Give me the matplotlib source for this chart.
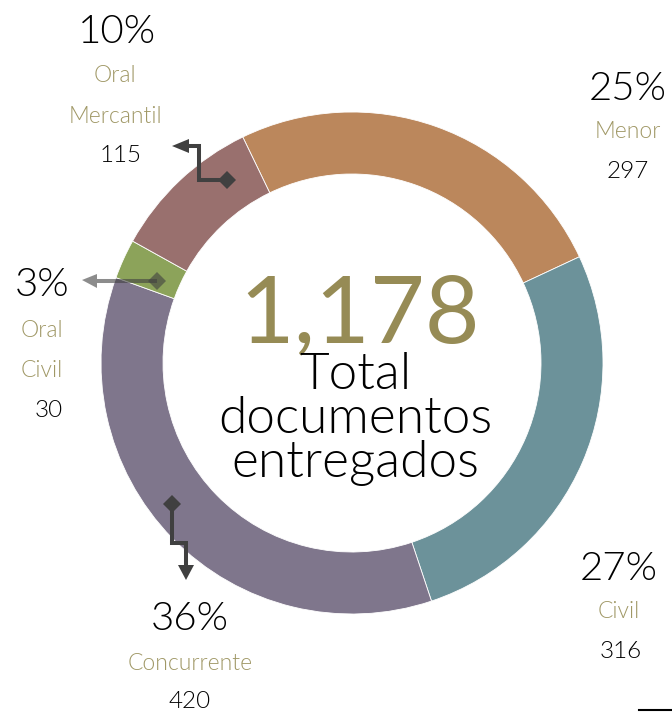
import matplotlib
matplotlib.use("Agg")
import matplotlib.pyplot as plt
from matplotlib.patches import Polygon

# ---- data ----
categories = ["Menor", "Civil", "Concurrente", "Oral\nCivil", "Oral\nMercantil"]
values = [297, 316, 420, 30, 115]
percent_labels = ["25%", "27%", "36%", "3%", "10%"]
total_label = "1,178"
center_caption = ["Total", "documentos", "entregados"]

colors = ["#BB875C", "#6C929A", "#7F768C", "#8CA35A", "#99706E"]
label_color = "#A09866"
big_color = "#968B55"
dark = "#404040"

W, H = 672, 712
FONT = ["Lato", "DejaVu Sans"]

fig = plt.figure(figsize=(W / 100, H / 100), dpi=100)
ax = fig.add_axes([0, 0, 1, 1])


def Y(y):
    return H - y


cx, cy, R, ring = 352, 363, 251, 62
ax.pie(values, colors=colors, startangle=115.8, counterclock=False,
       radius=R, center=(cx, Y(cy)),
       wedgeprops=dict(width=ring, edgecolor="white", linewidth=0.6))
ax.set_xlim(0, W)
ax.set_ylim(0, H)
ax.set_aspect("equal")
ax.axis("off")


def txt(x, y, s, size, color="black", weight=300, va="baseline", **kw):
    ax.text(x, Y(y), s, fontsize=size, color=color, ha="center", va=va,
            family=FONT, fontweight=weight, **kw)


# label groups: (x centers, baselines)
groups = {
    "Menor": dict(x=(628, 628, 628), y=(100, 138, 178)),
    "Civil": dict(x=(619, 619, 621), y=(580, 618, 658)),
    "Concurrente": dict(x=(190, 190, 190), y=(630, 670, 708)),
    "Oral\nCivil": dict(x=(42, 42, 42, 49), y=(296, 337, 377, 417)),
    "Oral\nMercantil": dict(x=(117, 115, 115, 121), y=(43, 82, 123, 162)),
}

for cat, val, pct in zip(categories, values, percent_labels):
    g = groups[cat]
    parts = cat.split("\n")
    xs, ys = g["x"], g["y"]
    txt(xs[0], ys[0], pct, 29)
    for i, p in enumerate(parts):
        txt(xs[1 + i], ys[1 + i], p, 16.5, color=label_color)
    txt(xs[-1], ys[-1], str(val), 17.5)

# center text
txt(360, 342, total_label, 68, color=big_color, weight=400)
txt(355, 352, "\n".join(center_caption), 37, va="top", linespacing=0.95,
    multialignment="center")


# leader lines
def leader(path, tip, base_half, color, alpha=1.0):
    xs = [p[0] for p in path]
    ys = [Y(p[1]) for p in path]
    ax.plot(xs, ys, color=color, lw=2.9, alpha=alpha, solid_joinstyle="miter",
            solid_capstyle="butt")
    ax.plot(xs[0], ys[0], marker="D", markersize=9, color=color, alpha=alpha,
            markeredgewidth=0)
    bx, by = path[-1]
    tx, ty = tip
    if bx == tx:
        pts = [(bx - base_half, Y(by)), (bx + base_half, Y(by)), (tx, Y(ty))]
    else:
        pts = [(bx, Y(by) - base_half), (bx, Y(by) + base_half), (tx, Y(ty))]
    ax.add_patch(Polygon(pts, closed=True, facecolor=color, edgecolor="none",
                         alpha=alpha))


leader([(227, 180), (199, 180), (199, 146), (189, 146)], (172, 146), 7, dark)
leader([(157, 281), (97, 281)], (82, 280), 7, dark, alpha=0.6)
leader([(172, 504), (172, 543), (186, 543), (186, 565)], (186, 580), 8, dark)

# small rule at bottom right
ax.plot([639, 672], [Y(710), Y(710)], color="black", lw=1.5)

fig.savefig("out.png", dpi=100)
